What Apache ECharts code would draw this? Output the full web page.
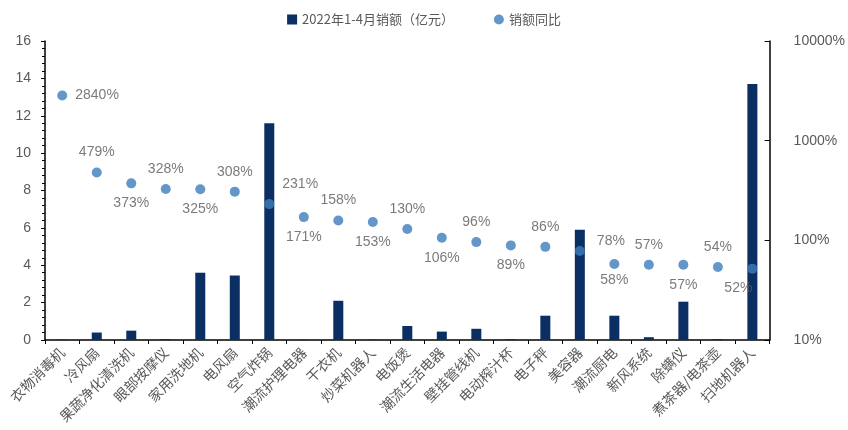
<!DOCTYPE html>
<html>
<head>
<meta charset="utf-8">
<script src="https://cdn.jsdelivr.net/npm/echarts@6/dist/echarts.min.js"></script>
<style>html,body{margin:0;padding:0;background:#fff}#main{width:848px;height:430px}</style>
</head>
<body>
<div id="main"></div>
<script>
// 品类
var categories = ['衣物消毒机','冷风扇','果蔬净化清洗机','眼部按摩仪','家用洗地机','电风扇','空气炸锅','潮流护理电器','干衣机','炒菜机器人','电饭煲','潮流生活电器','壁挂管线机','电动榨汁杯','电子秤','美容器','潮流厨电','新风系统','除螨仪','煮茶器/电茶壶','扫地机器人'];
// 2022年1-4月销额（亿元）
var sales = [0.02, 0.4, 0.5, 0.05, 3.6, 3.45, 11.6, 0.02, 2.1, 0.02, 0.75, 0.45, 0.6, 0.05, 1.3, 5.9, 1.3, 0.15, 2.05, 0.05, 13.7];
// 销额同比（%）
var yoy = [2840, 479, 373, 328, 325, 308, 231, 171, 158, 153, 130, 106, 96, 89, 86, 78, 58, 57, 57, 54, 52];
// 标签位置与偏移（样式）
var labelPos = ['right','top','bottom','top','bottom','top','right','bottom','top','bottom','top','bottom','top','bottom','top','right','bottom','top','bottom','top','bottom'];
var labelOffset = [[0,0],[0,0],[0,0],[0,0],[0,0],[0,0],[0,-20],[0,0],[0,0],[0,0],[0,0],[0,0],[0,0],[0,0],[0,0],[4,-10],[0,-4],[0,0],[0,0],[0,0],[-14,0]];
var leftTicks = [0, 2, 4, 6, 8, 10, 12, 14, 16];
var rightTicks = [10, 100, 1000, 10000];

var myChart = echarts.init(document.getElementById('main'));
var cjk = '"Noto Sans CJK SC", sans-serif';
var latin = '"Liberation Sans", Arial, sans-serif';
var gray = '#595959';

var option = {
    animation: false,
    textStyle: { fontFamily: cjk },
    legend: {
        top: 8,
        left: 'center',
        itemGap: 40,
        itemWidth: 10,
        itemHeight: 10,
        textStyle: { color: gray, fontSize: 13 },
        data: [
            { name: '2022年1-4月销额（亿元）', icon: 'rect' },
            { name: '销额同比', icon: 'circle' }
        ]
    },
    grid: { left: 45, right: 75, top: 41, bottom: 90 },
    xAxis: {
        type: 'category',
        data: categories,
        axisLine: { lineStyle: { color: '#000', width: 1.5 } },
        axisTick: { show: true, length: 4, lineStyle: { color: '#000' } },
        axisLabel: { rotate: 45, interval: 0, color: gray, fontSize: 14, margin: 10 }
    },
    yAxis: [
        {
            type: 'value',
            min: leftTicks[0],
            max: leftTicks[leftTicks.length - 1],
            interval: 2,
            splitLine: { show: false },
            axisLine: { show: true, lineStyle: { color: '#000', width: 1.5 } },
            axisTick: { show: true, length: 4, lineStyle: { color: '#000' } },
            minorTick: { show: true, splitNumber: 5, length: 3, lineStyle: { color: '#000' } },
            axisLabel: { color: gray, fontSize: 14, margin: 14, fontFamily: latin }
        },
        {
            type: 'log',
            logBase: 10,
            min: rightTicks[0],
            max: rightTicks[rightTicks.length - 1],
            splitLine: { show: false },
            axisLine: { show: true, lineStyle: { color: '#000', width: 1.5 } },
            axisTick: { show: true, length: 5, inside: true, lineStyle: { color: '#000' } },
            axisLabel: {
                color: gray, fontSize: 14, margin: 24, fontFamily: latin,
                formatter: function (v) { return Math.round(v) + '%'; }
            }
        }
    ],
    series: [
        {
            name: '2022年1-4月销额（亿元）',
            type: 'bar',
            data: sales,
            barWidth: 10,
            itemStyle: { color: '#0b2f63' }
        },
        {
            name: '销额同比',
            type: 'scatter',
            yAxisIndex: 1,
            symbolSize: 10,
            itemStyle: { color: '#3d7dbc' },
            z: 5,
            data: yoy.map(function (v, i) {
                return {
                    value: v,
                    label: { position: labelPos[i], offset: labelOffset[i] }
                };
            }),
            label: {
                show: true,
                formatter: '{c}%',
                color: gray,
                fontSize: 14,
                distance: 8,
                fontFamily: latin
            }
        }
    ]
};

myChart.setOption(option);
</script>
</body>
</html>
